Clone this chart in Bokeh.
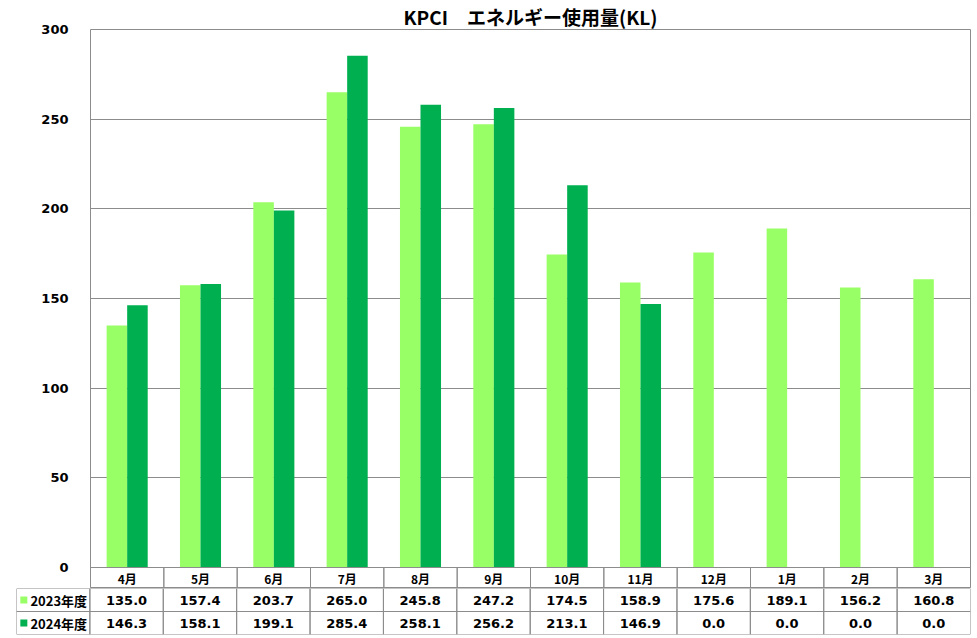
from bokeh.plotting import figure
from bokeh.models import FactorRange, Range1d, FixedTicker, ColumnDataSource
from bokeh.transform import dodge
from bokeh.layouts import column
from bokeh.core.properties import value
from bokeh.embed import file_html
from bokeh.resources import INLINE

# ---- data ----
months = ["4月", "5月", "6月", "7月", "8月", "9月", "10月", "11月", "12月", "1月", "2月", "3月"]
series_names = ["2023年度", "2024年度"]
fy2023 = [135.0, 157.4, 203.7, 265.0, 245.8, 247.2, 174.5, 158.9, 175.6, 189.1, 156.2, 160.8]
fy2024 = [146.3, 158.1, 199.1, 285.4, 258.1, 256.2, 213.1, 146.9, 0.0, 0.0, 0.0, 0.0]
y_ticks = [0, 50, 100, 150, 200, 250, 300]
title_text = "KPCI　エネルギー使用量(KL)"

# ---- style ----
FONT = "Noto Sans CJK JP"
NUMFONT = "DejaVu Sans"
C2023 = "#99FF66"
C2024 = "#00B050"
GRAY = "#8c8c8c"
YMAX = 300
HEADER = YMAX * 21 / 538.0  # header row depth in data units

src = ColumnDataSource(dict(month=months, y2023=fy2023, y2024=fy2024,
                            hy=[-HEADER / 2] * len(months)))

p = figure(width=977, height=588, x_range=FactorRange(*months, range_padding=0),
           y_range=Range1d(-HEADER, YMAX), output_backend="svg", toolbar_location=None,
           title=title_text, min_border_left=90, min_border_right=7,
           min_border_bottom=0, min_border_top=0)
p.frame_align = False
p.title.align = "center"
p.title.offset = -8
p.title.standoff = 0
p.title.text_font = FONT
p.title.text_font_size = "19px"
p.title.text_font_style = "bold"
p.title.text_color = "black"

p.vbar(x=dodge("month", -0.14, range=p.x_range), top="y2023", width=0.28,
       source=src, fill_color=C2023, line_color=None)
p.vbar(x=dodge("month", 0.14, range=p.x_range), top="y2024", width=0.28,
       source=src, fill_color=C2024, line_color=None)

# header row (month labels)
p.rect(x="month", y="hy", width=1, height=HEADER, source=src,
       fill_alpha=0, line_color=GRAY, line_width=1)
p.text(x="month", y="hy", text="month", source=src, text_align="center",
       text_baseline="middle", text_font=value(FONT), text_font_size="12px",
       text_font_style="bold", text_color="black")

p.xaxis.visible = False
p.xgrid.visible = False
p.ygrid.ticker = FixedTicker(ticks=y_ticks)
p.ygrid.grid_line_color = GRAY
p.yaxis.ticker = FixedTicker(ticks=y_ticks)
p.yaxis.axis_line_color = None
p.yaxis.major_tick_line_color = None
p.yaxis.minor_tick_line_color = None
p.yaxis.major_label_standoff = 16
p.yaxis.major_label_text_font = NUMFONT
p.yaxis.major_label_text_font_size = "13px"
p.yaxis.major_label_text_font_style = "bold"
p.yaxis.major_label_text_color = "black"
p.outline_line_color = GRAY
p.background_fill_color = "white"

# ---- data table below ----
LEG = "凡例"
cols = [LEG] + months
rows = list(reversed(series_names))
t = figure(width=977, height=50, x_range=FactorRange(*cols, range_padding=0),
           y_range=FactorRange(*rows, range_padding=0), output_backend="svg",
           toolbar_location=None, min_border_left=16, min_border_right=7,
           min_border_top=0, min_border_bottom=4)
t.frame_align = False
t.axis.visible = False
t.grid.visible = False
t.outline_line_color = None

cx, cy, ct = [], [], []
for name, vals in zip(series_names, [fy2023, fy2024]):
    for m, v in zip(months, vals):
        cx.append(m); cy.append(name); ct.append(f"{v:.1f}")
cells = ColumnDataSource(dict(x=cx, y=cy, t=ct))
allx = [c for _ in series_names for c in cols]
ally = [s for s in series_names for _ in cols]
grid_src = ColumnDataSource(dict(x=allx, y=ally))
t.rect(x="x", y="y", width=1, height=1, source=grid_src, fill_alpha=0,
       line_color=GRAY, line_width=1)
t.text(x="x", y="y", text="t", source=cells, text_align="center",
       text_baseline="middle", text_font=value(NUMFONT), text_font_size="13px",
       text_font_style="bold", text_color="black")

leg = ColumnDataSource(dict(x=[LEG, LEG], y=series_names, t=series_names,
                            c=[C2023, C2024]))
t.scatter(x=dodge("x", -0.40, range=t.x_range), y="y", source=leg, marker="square",
          size=7, fill_color="c", line_color=None)
t.text(x=dodge("x", -0.31, range=t.x_range), y="y", text="t", source=leg,
       text_align="left", text_baseline="middle", text_font=value(FONT),
       text_font_size="13px", text_font_style="bold", text_color="black")

layout = column(p, t, spacing=0)
open("out.html", "w").write(file_html(layout, INLINE))
